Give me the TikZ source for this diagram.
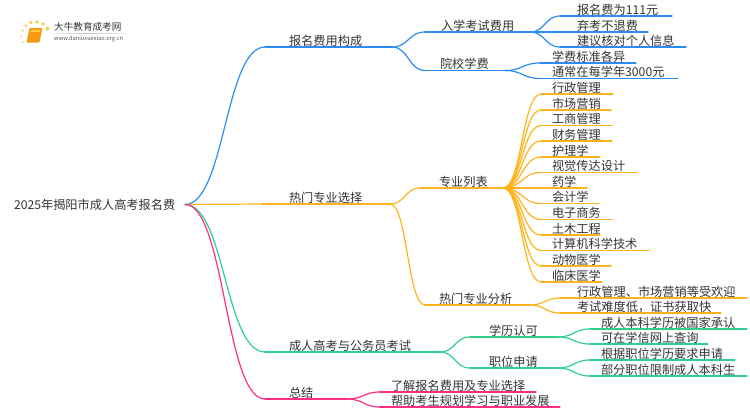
\documentclass[tikz,border=0pt]{standalone}
\usepackage{fontspec}
\setmainfont{Noto Sans CJK SC}
\usetikzlibrary{calc}
\definecolor{cblue}{HTML}{2B8CF5}
\definecolor{corange}{HTML}{FFB31A}
\definecolor{cgreen}{HTML}{2FD08E}
\definecolor{cpink}{HTML}{FF2E82}
\definecolor{ctext}{HTML}{333333}
\definecolor{cdot}{HTML}{FFC94D}
\definecolor{cbook}{HTML}{F59A12}
\tikzset{
  lab/.style={inner sep=0pt,outer sep=0pt,anchor=south west,font=\fontsize{12.2}{14}\selectfont,text=ctext,align=left},
  itemlab/.style={lab,text depth=2pt,text height=10pt},
  link/.style={line width=1.2pt,line cap=round},
}
% name, colour, parent, line start, line end, y, text start, text
\newcommand{\mmitem}[8]{%
  \pgfmathsetmacro{\mmw}{#5-#4}\pgfmathsetmacro{\mmi}{#7-#4}%
  \draw[link,#2] (#4,#6) -- (#5,#6);
  \node[itemlab,minimum width=\mmw pt,text width=\mmw pt] (#1) at (#4,#6) {\hspace*{\mmi pt}#8};
  \coordinate (#1ctl) at ($(#3.south east)!0.5!(#1.south west)$);
  \draw[link,#2] (#3.south east) .. controls (#1ctl|-#3.south east) and (#1ctl|-#1.south west) .. (#1.south west);
}
\begin{document}
\begin{tikzpicture}[x=1pt,y=-1pt]
\useasboundingbox (0,0) rectangle (750,410);
% logo
\foreach \px/\py/\pr in {23/42/0.9,21.5/36.5/1,22.5/30.5/1.1,26/25.5/1.4,31/22.5/1.8,37/22/1.8,43/24/1.8,47.5/28.5/2}
  \fill[cdot] (\px,\py) circle (\pr);
\fill[cbook,rounded corners=1pt] (29.5,28) -- (42.5,28) -- (39.5,42.5) -- (26.5,42.5) -- cycle;
\fill[cdot] (31,30) -- (40.5,30) -- (40,32) -- (30.5,32) -- cycle;
\node[inner sep=0pt,anchor=west,font=\fontsize{9.6}{11}\selectfont,text=ctext] (logotitle) at (54,27) {大牛教育成考网};
\node[inner sep=0pt,anchor=west,font=\fontsize{5.7}{7}\selectfont,text=black!65] (logourl) at (54,39) {www.daniuxuexiao.org.cn};
\shade[left color=white,right color=white,middle color=black!25] (45,33) rectangle (133,33.6);
% root
\node[lab,anchor=west,minimum width=171pt,text width=171pt] (root) at (14,204.5) {2025年揭阳市成人高考报名费};
\coordinate (r) at (root.east);
% level 1
\mmitem{a}{cblue}{r}{265}{392}{47}{289}{报名费用构成}
\mmitem{b}{corange}{r}{262}{390}{204}{289}{热门专业选择}
\mmitem{c}{cgreen}{r}{265}{440}{352}{289}{成人高考与公务员考试}
\mmitem{d}{cpink}{r}{265}{347}{399}{289}{总结}
% blue
\mmitem{a1}{cblue}{a}{425}{530}{32}{441}{入学考试费用}
\mmitem{a2}{cblue}{a}{425}{505}{70.5}{440}{院校学费}
\mmitem{a11}{cblue}{a1}{560}{672}{16}{577}{报名费为111元}
\mmitem{a12}{cblue}{a1}{560}{648}{32}{577}{弃考不退费}
\mmitem{a13}{cblue}{a1}{560}{686}{47}{577}{建议核对个人信息}
\mmitem{a21}{cblue}{a2}{540}{636}{63}{552}{学费标准各异}
\mmitem{a22}{cblue}{a2}{540}{678}{78.5}{552}{通常在每学年3000元}
% orange
\mmitem{b1}{corange}{b}{420}{503}{188}{439}{专业列表}
\mmitem{b2}{corange}{b}{425}{530}{305}{439}{热门专业分析}
\mmitem{b11}{corange}{b1}{541}{613}{94}{552}{行政管理}
\mmitem{b12}{corange}{b1}{541}{611}{110}{552}{市场营销}
\mmitem{b13}{corange}{b1}{541}{612}{125.5}{552}{工商管理}
\mmitem{b14}{corange}{b1}{541}{612}{141}{552}{财务管理}
\mmitem{b15}{corange}{b1}{541}{600}{157}{552}{护理学}
\mmitem{b16}{corange}{b1}{541}{637}{172.5}{552}{视觉传达设计}
\mmitem{b17}{corange}{b1}{541}{587}{188}{552}{药学}
\mmitem{b18}{corange}{b1}{541}{599}{203.5}{552}{会计学}
\mmitem{b19}{corange}{b1}{541}{612}{219.5}{552}{电子商务}
\mmitem{b110}{corange}{b1}{541}{600}{235}{552}{土木工程}
\mmitem{b111}{corange}{b1}{541}{649}{250.5}{552}{计算机科学技术}
\mmitem{b112}{corange}{b1}{541}{611}{266}{552}{动物医学}
\mmitem{b113}{corange}{b1}{541}{602}{282}{552}{临床医学}
\mmitem{b21}{corange}{b2}{560}{747}{298}{577}{行政管理、市场营销等受欢迎}
\mmitem{b22}{corange}{b2}{560}{721}{313}{577}{考试难度低，证书获取快}
% green
\mmitem{c1}{cgreen}{c}{470}{558}{337}{489}{学历认可}
\mmitem{c2}{cgreen}{c}{470}{558}{368}{489}{职位申请}
\mmitem{c11}{cgreen}{c1}{590}{747}{329}{601}{成人本科学历被国家承认}
\mmitem{c12}{cgreen}{c1}{590}{708}{344}{601}{可在学信网上查询}
\mmitem{c21}{cgreen}{c2}{590}{735}{360}{601}{根据职位学历要求申请}
\mmitem{c22}{cgreen}{c2}{590}{747}{376}{601}{部分职位限制成人本科生}
% pink
\mmitem{d1}{cpink}{d}{380}{536}{392}{391}{了解报名费用及专业选择}
\mmitem{d2}{cpink}{d}{380}{560}{407}{391}{帮助考生规划学习与职业发展}
\end{tikzpicture}
\end{document}
